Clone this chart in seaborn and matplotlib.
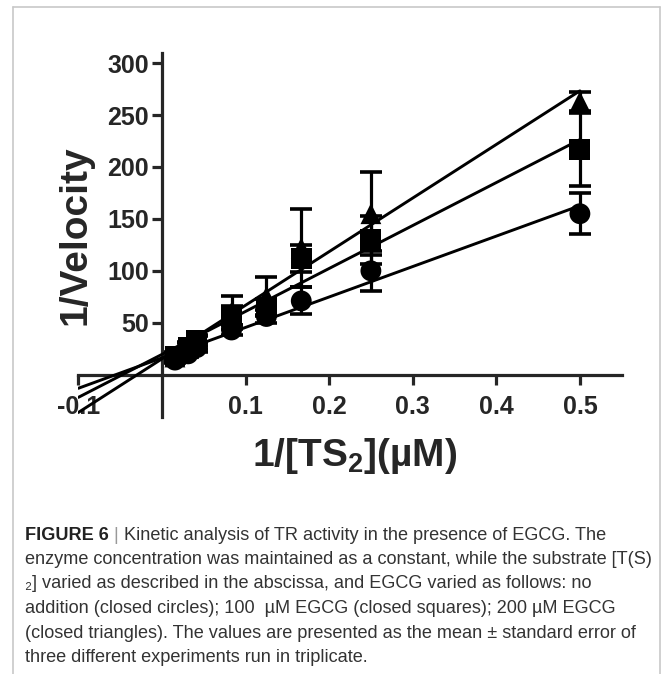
import numpy as np
import pandas as pd
import seaborn as sns
import matplotlib
matplotlib.use("Agg")
from matplotlib import pyplot as plt
from matplotlib.lines import Line2D

# 1/[TS2] values (substrate 64, 32, 24, 12, 8, 6, 4, 2 uM)
inv_substrate = [0.0156, 0.0313, 0.0417, 0.0833, 0.125, 0.1667, 0.25, 0.5]

# 1/velocity, mean and SEM
circle_mean = [14, 20, 26, 43, 56, 71, 100, 155]
circle_sem = [3, 3, 4, 5, 6, 13, 19, 20]
square_mean = [18, 26, 33, 57, 65, 112, 130, 217]
square_sem = [4, 5, 5, 9, 8, 13, 23, 35]
triangle_mean = [17, 25, 31, 60, 75, 122, 155, 263]
triangle_sem = [4, 5, 6, 16, 19, 38, 40, 9]

groups = ["no addition", "100 uM EGCG", "200 uM EGCG"]
markers = {"no addition": "o", "100 uM EGCG": "s", "200 uM EGCG": "^"}

x_ticks = [-0.1, 0.1, 0.2, 0.3, 0.4, 0.5]
x_ticklabels = ["-0.1", "0.1", "0.2", "0.3", "0.4", "0.5"]
y_ticks = [50, 100, 150, 200, 250, 300]

caption_lines = [
    "enzyme concentration was maintained as a constant, while the substrate [T(S)",
    "\u2082] varied as described in the abscissa, and EGCG varied as follows: no",
    "addition (closed circles); 100  \u00b5M EGCG (closed squares); 200 \u00b5M EGCG",
    "(closed triangles). The values are presented as the mean \u00b1 standard error of",
    "three different experiments run in triplicate.",
]
caption_first = "Kinetic analysis of TR activity in the presence of EGCG. The"

means = [circle_mean, square_mean, triangle_mean]
sems = [circle_sem, square_sem, triangle_sem]
df = pd.concat([pd.DataFrame({"x": inv_substrate, "y": m, "sem": e, "group": g})
                for g, m, e in zip(groups, means, sems)], ignore_index=True)

sns.set_style("ticks")
plt.rcParams["font.family"] = ["Liberation Sans", "DejaVu Sans"]
plt.rcParams["mathtext.fontset"] = "custom"
plt.rcParams["mathtext.rm"] = "Liberation Sans:bold"
plt.rcParams["mathtext.it"] = "Liberation Sans:bold"
plt.rcParams["mathtext.bf"] = "Liberation Sans:bold"

W, H = 663, 674
fig = plt.figure(figsize=(W / 100, H / 100), dpi=100)
ax = fig.add_axes([78.3 / W, 1 - 417.2 / H, (621.7 - 78.3) / W, (417.2 - 52.8) / H])

# regression lines, extended over -0.1 .. 0.5
ax.set_xlim(-0.1, 0.5)
for g in groups:
    sub = df[df["group"] == g]
    sns.regplot(data=sub, x="x", y="y", ax=ax, scatter=False, ci=None,
                truncate=False, color="black", line_kws={"lw": 2.1, "zorder": 3})

for g in groups:
    sub = df[df["group"] == g]
    ax.errorbar(sub["x"], sub["y"], yerr=sub["sem"], fmt="none", ecolor="black",
                elinewidth=2.3, capsize=8, capthick=2.6, zorder=4)

sns.scatterplot(data=df, x="x", y="y", style="group", markers=markers, color="black",
                s=225, edgecolor="none", legend=False, ax=ax, zorder=5)

ax.set_xlim(-0.1, 0.55)
ax.set_ylim(-41, 310)
ax.spines["left"].set_position(("data", 0))
ax.spines["bottom"].set_position(("data", 0))
ax.spines["top"].set_visible(False)
ax.spines["right"].set_visible(False)
for s in ["left", "bottom"]:
    ax.spines[s].set_linewidth(2.3)
ax.set_xticks(x_ticks)
ax.set_xticklabels(x_ticklabels)
ax.set_yticks(y_ticks)
ax.tick_params(axis="both", width=2.3, length=7.5, labelsize=18)
ax.tick_params(axis="x", pad=7)
ax.tick_params(axis="y", pad=2)
for lab in ax.get_xticklabels() + ax.get_yticklabels():
    lab.set_fontweight("bold")
ax.set_xlabel("")
ax.set_ylabel("")
ax.patch.set_alpha(0)

fig.text(75 / W, 1 - 235 / H, "1/Velocity", rotation=90, ha="center", va="center",
         fontsize=28, fontweight="bold")
fig.text(355 / W, 1 - 456 / H, "1/[TS$_2$](\u00b5M)", ha="center", va="center",
         fontsize=28, fontweight="bold")

# frame around figure and caption
fc = "#c8c8c8"
fig.add_artist(Line2D([12.5 / W, 12.5 / W], [-0.01, 1 - 6.5 / H], color=fc, lw=1.2))
fig.add_artist(Line2D([12.5 / W, 660 / W], [1 - 6.5 / H, 1 - 6.5 / H], color=fc, lw=1.2))
fig.add_artist(Line2D([660 / W, 660 / W], [-0.01, 1 - 6.5 / H], color=fc, lw=1.2))

# caption, sized so the longest line spans the box like in the reference
cap_font = ["Liberation Sans", "DejaVu Sans"]
cap_color = "#333333"
renderer = fig.canvas.get_renderer()
probe = fig.text(0, 0, caption_lines[0], fontsize=10, family=cap_font)
cap_size = 10 * 630 / probe.get_window_extent(renderer).width
probe.remove()

x0 = 25 / W
y_first = 535
step = 24.5
t = fig.text(x0, 1 - y_first / H, "FIGURE 6", fontsize=cap_size, fontweight="bold",
             family=cap_font, color="#222222", va="center")
bb = t.get_window_extent(renderer)
t2 = fig.text(bb.x1 / W + 5 / W, 1 - y_first / H, "|", fontsize=cap_size,
              family=cap_font, color="#999999", va="center")
bb2 = t2.get_window_extent(renderer)
fig.text(bb2.x1 / W + 5 / W, 1 - y_first / H, caption_first, fontsize=cap_size,
         family=cap_font, color=cap_color, va="center")
for i, line in enumerate(caption_lines):
    fig.text(x0, 1 - (y_first + step * (i + 1)) / H, line, fontsize=cap_size,
             family=cap_font, color=cap_color, va="center")

fig.savefig("out.png", dpi=100)
